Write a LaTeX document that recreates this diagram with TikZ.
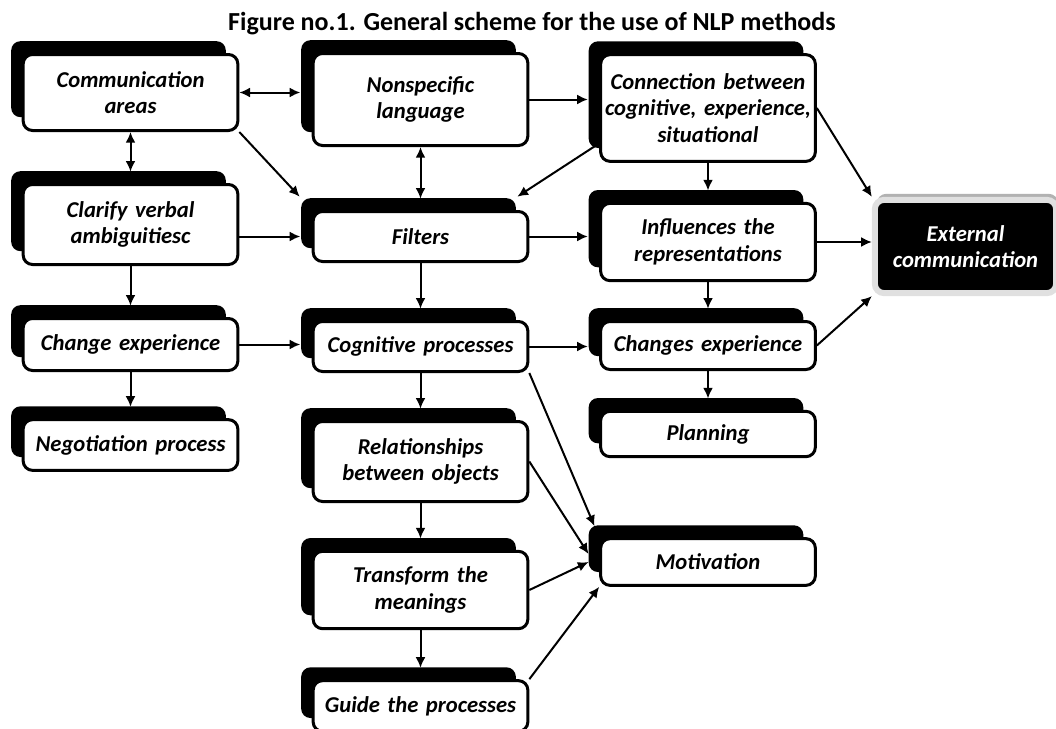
\documentclass[tikz,border=0pt]{standalone}
\usepackage{fontspec}
\setmainfont{Carlito}
\usetikzlibrary{arrows.meta,shadows,positioning}

\begin{document}
\begin{tikzpicture}[x=0.75pt,y=-0.75pt,>={Latex[length=8pt,width=7.5pt]},
    box/.style={draw,line width=2.25pt,fill=white,rounded corners=7pt,
      general shadow={fill=black,shadow xshift=-9pt,shadow yshift=10pt},
      text width=157pt,inner sep=2pt,align=center,
      font=\fontsize{17}{20}\selectfont\bfseries\itshape},
    outbox/.style={draw=black!12,line width=4.5pt,fill=black,text=white,rounded corners=7pt,
      general shadow={fill=black!30,shadow xshift=1.5pt,shadow yshift=4.5pt},
      text width=130pt,inner sep=3pt,align=center,
      font=\fontsize{17}{20}\selectfont\bfseries\itshape},
    link/.style={line width=1.5pt},
    tosh/.style={shorten >=8.5pt}]
    \useasboundingbox (0,0) rectangle (1056,728);

    \node[font=\fontsize{19.5}{22}\selectfont\bfseries] (title) at (532,24) {Figure no.1. General scheme for the use of NLP methods};

    \node[box,minimum height=57pt] (comm) at (130.5,92.5) {Communication\\areas};
    \node[box,minimum height=60pt] (clar) at (130.5,224.5) {Clarify verbal\\ambiguitiesc};
    \node[box,minimum height=39pt] (chg) at (130.5,344.5) {Change experience};
    \node[box,minimum height=38pt] (nego) at (130.5,445) {Negotiation process};

    \node[box,minimum height=69pt] (lang) at (420.5,99.5) {Nonspecific\\language};
    \node[box,minimum height=37.5pt] (filt) at (420.5,236.5) {Filters};
    \node[box,minimum height=37.5pt] (cogn) at (420.5,346.5) {Cognitive processes};
    \node[box,minimum height=60pt] (rel) at (420.5,461.5) {Relationships\\between objects};
    \node[box,minimum height=58pt] (trans) at (420.5,590) {Transform the\\meanings};
    \node[box,minimum height=38pt] (guide) at (420.5,706) {Guide the processes};

    \node[box,minimum height=80pt] (conn) at (708,108) {Connection between\\cognitive, experience,\\situational};
    \node[box,minimum height=58pt] (infl) at (708,242) {Influences the\\representations};
    \node[box,minimum height=36pt] (chgs) at (708,345.5) {Changes experience};
    \node[box,minimum height=34pt] (plan) at (708,434) {Planning};
    \node[box,minimum height=35pt] (motv) at (708,562) {Motivation};

    \node[outbox,minimum height=70pt] (extc) at (965.5,246.5) {External\\communication};

    \draw[link,<->,tosh] (comm.east) -- (comm.east -| lang.west);
    \draw[link,<->,tosh] (comm.south) -- (clar.north);
    \draw[link,->] (comm.south east) -- ([shift={(-9pt,10pt)}]filt.north west);
    \draw[link,<->,tosh] (lang.south) -- (filt.north);
    \draw[link,->,tosh] (lang.east) -- (lang.east -| conn.west);
    \draw[link,->] (conn.198) -- ([shift={(-9pt,10pt)}]filt.north east);
    \draw[link,->,tosh] (conn.south) -- (infl.north);
    \draw[link,->] (conn.east) -- (extc.north west);
    \draw[link,->,tosh] (filt.west -| clar.east) -- (filt.west);
    \draw[link,->,tosh] (filt.east) -- (filt.east -| infl.west);
    \draw[link,->,tosh] (clar.south) -- (chg.north);
    \draw[link,->,tosh] (filt.south) -- (cogn.north);
    \draw[link,->,tosh] (infl.south) -- (chgs.north);
    \draw[link,->] (infl.east) -- (infl.east -| extc.west);
    \draw[link,->,tosh] (chg.east) -- (chg.east -| cogn.west);
    \draw[link,->,tosh] (cogn.east) -- (cogn.east -| chgs.west);
    \draw[link,->] (chgs.east) -- (extc.south west);
    \draw[link,->,tosh] (chg.south) -- (nego.north);
    \draw[link,->,tosh] (chgs.south) -- (plan.north);
    \draw[link,->,tosh] (cogn.south) -- (rel.north);
    \draw[link,->,shorten >=9pt] (cogn.south east) -- (motv.north west);
    \draw[link,->] (rel.east) -- ([shift={(-8pt,6pt)}]motv.west);
    \draw[link,->,tosh] (rel.south) -- (trans.north);
    \draw[link,->] (trans.east) -- ([xshift=-8pt]motv.west);
    \draw[link,->,tosh] (trans.south) -- (guide.north);
    \draw[link,->] (guide.north east) -- (motv.south west);
\end{tikzpicture}
\end{document}
